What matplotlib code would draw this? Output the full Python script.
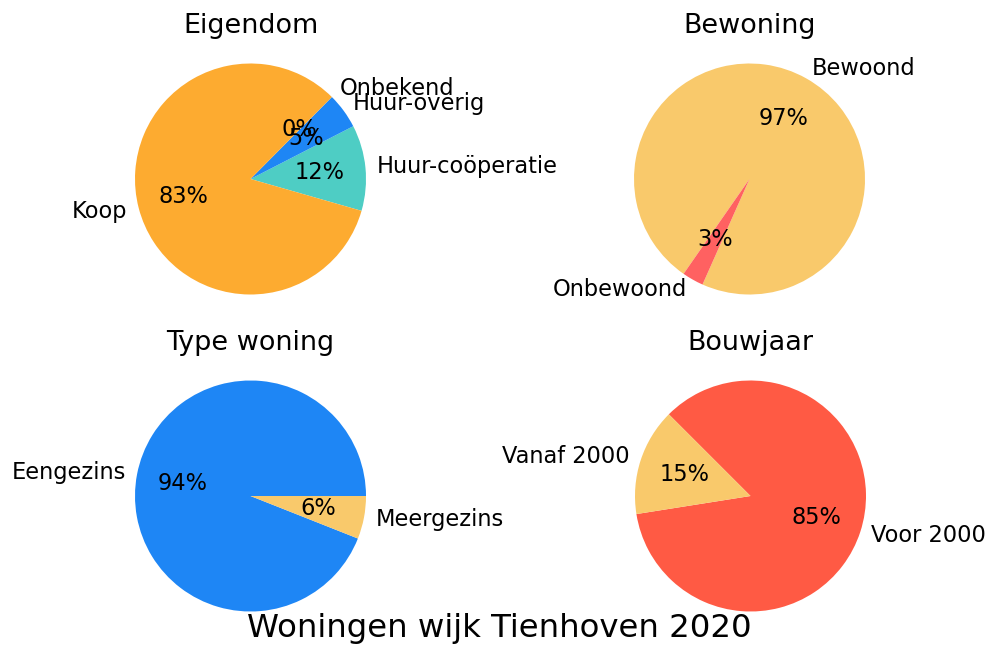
import matplotlib
matplotlib.use("Agg")
import matplotlib.pyplot as plt

# Eigendom
eigendom_labels = ['Huur-coöperatie', 'Huur-overig', 'Onbekend', 'Koop']
eigendom_values = [12, 5, 0, 83]
eigendom_colors = ['#4ECDC4', '#1E86F5', '#9B59B6', '#FDAB30']

# Bewoning
bewoning_labels = ['Bewoond', 'Onbewoond']
bewoning_values = [97, 3]
bewoning_colors = ['#F9C96B', '#FF6161']

# Type woning
type_labels = ['Eengezins', 'Meergezins']
type_values = [94, 6]
type_colors = ['#1E86F5', '#F9C96B']

# Bouwjaar
bouwjaar_labels = ['Voor 2000', 'Vanaf 2000']
bouwjaar_values = [85, 15]
bouwjaar_colors = ['#FF5A44', '#F9C96B']

W, H = 990, 646
DPI = 135
R = 115.5          # pie radius in pixels
LIM = 1.17         # data limits of each pie axes

plt.rcParams['font.size'] = 12


def pie_axes(fig, cx, cy):
    # square axes centred on (cx, cy) pixel position (from top left)
    side = 2 * LIM * R
    left = (cx - side / 2) / W
    bottom = (H - cy - side / 2) / H
    ax = fig.add_axes([left, bottom, side / W, side / H])
    return ax


def draw_pie(ax, values, labels, colors, title, start):
    ax.pie(values, labels=labels, colors=colors, autopct='%1.0f%%',
           startangle=start)
    ax.set_xlim(-LIM, LIM)
    ax.set_ylim(-LIM, LIM)
    ax.set_title(title, fontsize='large')


def main():
    fig = plt.figure(figsize=(W / DPI, H / DPI), dpi=DPI)

    draw_pie(pie_axes(fig, 250.5, 179), eigendom_values, eigendom_labels,
             eigendom_colors, 'Eigendom', -16)
    draw_pie(pie_axes(fig, 749.5, 179), bewoning_values, bewoning_labels,
             bewoning_colors, 'Bewoning', 246)
    draw_pie(pie_axes(fig, 250.5, 496), type_values, type_labels,
             type_colors, 'Type woning', 0)
    draw_pie(pie_axes(fig, 750.5, 496), bouwjaar_values, bouwjaar_labels,
             bouwjaar_colors, 'Bouwjaar', 189)

    fig.suptitle('Woningen wijk Tienhoven 2020', fontsize='x-large',
                 x=0.504, y=(H - 629) / H, va='center')

    fig.savefig('out.png', dpi=DPI)


if __name__ == '__main__':
    main()
